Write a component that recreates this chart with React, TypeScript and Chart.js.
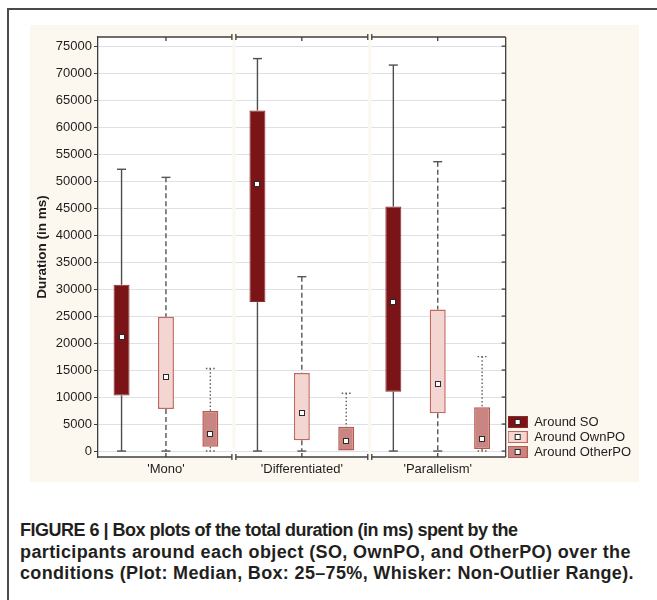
import React, { useEffect, useRef } from "react";
import { Chart, registerables } from "chart.js";

Chart.register(...registerables);

// ---------- data ----------
const categories = ["'Mono'", "'Differentiated'", "'Parallelism'"];
const seriesNames = ["Around SO", "Around OwnPO", "Around OtherPO"];

const soMin = [0, 0, 0];
const soQ1 = [10300, 27600, 11000];
const soMedian = [21100, 49500, 27600];
const soQ3 = [30800, 63100, 45300];
const soMax = [52200, 72700, 71500];

const ownMin = [0, 0, 0];
const ownQ1 = [7800, 2000, 7000];
const ownMedian = [13700, 7100, 12400];
const ownQ3 = [24900, 14450, 26200];
const ownMax = [50700, 32300, 53600];

const otherMin = [0, 0, 0];
const otherQ1 = [800, 0, 400];
const otherMedian = [3100, 1850, 2200];
const otherQ3 = [7400, 4500, 8100];
const otherMax = [15300, 10700, 17500];

const yTickValues = [0, 5000, 10000, 15000, 20000, 25000, 30000, 35000, 40000, 45000, 50000, 55000, 60000, 65000, 70000, 75000];
const yAxisTitle = "Duration (in ms)";

const captionLines = [
  "FIGURE 6 | Box plots of the total duration (in ms) spent by the",
  "participants around each object (SO, OwnPO, and OtherPO) over the",
  "conditions (Plot: Median, Box: 25\u201375%, Whisker: Non-Outlier Range).",
];

// ---------- styles ----------
const FONT = "'Liberation Sans', Arial, Helvetica, sans-serif";
const CREAM = "#fdf8ef";
const captionSpacing = [-0.5, 0.38, 0.34];
const seriesStyles = [
  { fill: "#7b1416", stroke: "#8e2a27", border: 1, dash: [] as number[], capDash: [] as number[], whisker: "#4e4e4e" },
  { fill: "#f3d5d1", stroke: "#c4685e", border: 1.5, dash: [5, 3], capDash: [] as number[], whisker: "#555555" },
  { fill: "#c98581", stroke: "#b65a50", border: 1.5, dash: [1.5, 2.2], capDash: [1.5, 2.2], whisker: "#5e5e5e" },
];

const stats = [
  { min: soMin, q1: soQ1, med: soMedian, q3: soQ3, max: soMax },
  { min: ownMin, q1: ownQ1, med: ownMedian, q3: ownQ3, max: ownMax },
  { min: otherMin, q1: otherQ1, med: otherMedian, q3: otherQ3, max: otherMax },
];

function makeIcon(fill: string, stroke: string) {
  const c = document.createElement("canvas");
  c.width = 20;
  c.height = 12;
  const g = c.getContext("2d")!;
  g.fillStyle = fill;
  g.fillRect(0, 0, 20, 12);
  g.strokeStyle = stroke;
  g.lineWidth = 1;
  g.strokeRect(0.5, 0.5, 19, 11);
  g.fillStyle = "#ffffff";
  g.fillRect(7.5, 3.5, 5, 5);
  g.strokeStyle = "#2a2a2a";
  g.strokeRect(7.5, 3.5, 5, 5);
  return c;
}

function line(ctx: CanvasRenderingContext2D, x1: number, y1: number, x2: number, y2: number) {
  ctx.beginPath();
  ctx.moveTo(x1, y1);
  ctx.lineTo(x2, y2);
  ctx.stroke();
}

const boxPlugin = {
  id: "boxExtras",
  beforeDraw(chart: any) {
    const { ctx, chartArea: a } = chart;
    ctx.save();
    ctx.fillStyle = "#ffffff";
    ctx.fillRect(a.left, a.top, a.right - a.left, a.bottom - a.top);
    ctx.restore();
  },
  afterLayout(chart: any) {
    const lg = chart.legend;
    if (lg && chart.chartArea) {
      const h = lg.bottom - lg.top;
      lg.bottom = chart.chartArea.bottom + 3.5;
      lg.top = lg.bottom - h;
    }
  },
  beforeDatasetsDraw(chart: any) {
    const { ctx, chartArea: a, scales } = chart;
    const xs = scales.x;
    const ys = scales.y;
    ctx.save();
    // group separators
    ctx.fillStyle = CREAM;
    for (let i = 0; i < categories.length - 1; i++) {
      const xb = (xs.getPixelForValue(i) + xs.getPixelForValue(i + 1)) / 2;
      ctx.fillRect(xb - 1.5, a.top, 3, a.bottom - a.top);
    }
    // whiskers
    stats.forEach((s, k) => {
      const meta = chart.getDatasetMeta(k);
      const st = seriesStyles[k];
      meta.data.forEach((bar: any, j: number) => {
        const x = bar.x;
        ctx.strokeStyle = st.whisker;
        ctx.lineWidth = 1.4;
        ctx.setLineDash(st.dash);
        line(ctx, x, ys.getPixelForValue(s.max[j]), x, ys.getPixelForValue(s.q3[j]));
        if (s.min[j] < s.q1[j]) line(ctx, x, ys.getPixelForValue(s.q1[j]), x, ys.getPixelForValue(s.min[j]));
        ctx.setLineDash(st.capDash);
        const yMaxP = ys.getPixelForValue(s.max[j]);
        line(ctx, x - 4.5, yMaxP, x + 4.5, yMaxP);
        if (s.min[j] < s.q1[j]) {
          const yMinP = ys.getPixelForValue(s.min[j]);
          line(ctx, x - 4.5, yMinP, x + 4.5, yMinP);
        }
      });
    });
    ctx.restore();
  },
  afterDatasetsDraw(chart: any) {
    const { ctx, chartArea: a, scales } = chart;
    const xs = scales.x;
    const ys = scales.y;
    ctx.save();
    // medians
    stats.forEach((s, k) => {
      const meta = chart.getDatasetMeta(k);
      meta.data.forEach((bar: any, j: number) => {
        const x = Math.round(bar.x);
        const y = Math.round(ys.getPixelForValue(s.med[j]));
        ctx.fillStyle = "#ffffff";
        ctx.fillRect(x - 2.5, y - 2.5, 5, 5);
        ctx.strokeStyle = "#2a2a2a";
        ctx.lineWidth = 1;
        ctx.setLineDash([]);
        ctx.strokeRect(x - 2.5, y - 2.5, 5, 5);
      });
    });
    // frame with break marks
    ctx.strokeStyle = "#3f3f3f";
    ctx.lineWidth = 1.3;
    ctx.setLineDash([]);
    const bounds: number[] = [a.left];
    for (let i = 0; i < categories.length - 1; i++) {
      bounds.push((xs.getPixelForValue(i) + xs.getPixelForValue(i + 1)) / 2);
    }
    bounds.push(a.right);
    const gap = 2;
    [a.top, a.bottom].forEach((yy, side) => {
      for (let s = 0; s < bounds.length - 1; s++) {
        const x1 = s === 0 ? bounds[s] : bounds[s] + gap;
        const x2 = s === bounds.length - 2 ? bounds[s + 1] : bounds[s + 1] - gap;
        line(ctx, x1, yy, x2, yy);
        if (s > 0) line(ctx, x1, yy - 3, x1, yy + 3);
        if (s < bounds.length - 2) line(ctx, x2, yy - 3, x2, yy + 3);
      }
      for (let i = 0; i < categories.length; i++) {
        const cx = xs.getPixelForValue(i);
        line(ctx, cx, yy, cx, side === 0 ? yy + 4 : yy - 4);
      }
    });
    // right axis with inward ticks
    line(ctx, a.right, a.top, a.right, a.bottom);
    yTickValues.forEach((v) => {
      const yy = ys.getPixelForValue(v);
      line(ctx, a.right - 4, yy, a.right, yy);
    });
    ctx.restore();
  },
};

function BoxChart() {
  const ref = useRef<HTMLCanvasElement | null>(null);
  useEffect(() => {
    if (!ref.current) return;
    Chart.defaults.font.family = FONT;
    const icons = seriesStyles.map((s) => makeIcon(s.fill, s.stroke));
    const chart = new Chart(ref.current, {
      type: "bar",
      data: {
        labels: categories,
        datasets: stats.map((s, k) => ({
          label: seriesNames[k],
          data: s.q1.map((q, i) => [q, s.q3[i]]),
          backgroundColor: seriesStyles[k].fill,
          borderColor: seriesStyles[k].stroke,
          borderWidth: seriesStyles[k].border,
          borderSkipped: false,
          categoryPercentage: 0.98,
          barPercentage: 0.36,
        })),
      } as any,
      options: {
        responsive: false,
        animation: false,
        devicePixelRatio: 1,
        layout: { padding: { top: 12, left: 0, right: 0, bottom: 0 } },
        plugins: {
          tooltip: { enabled: false },
          legend: {
            position: "right",
            align: "end",
            labels: {
              usePointStyle: true,
              pointStyleWidth: 20,
              boxHeight: 12,
              padding: 2,
              color: "#1e1e1e",
              font: { size: 13, family: FONT },
              generateLabels: () =>
                seriesNames.map((name, k) => ({
                  text: name,
                  pointStyle: icons[k],
                  fillStyle: seriesStyles[k].fill,
                  strokeStyle: seriesStyles[k].stroke,
                  lineWidth: 0,
                  hidden: false,
                  datasetIndex: k,
                  fontColor: "#1e1e1e",
                })),
            },
          },
        },
        scales: {
          x: {
            type: "category",
            grid: { display: false, drawTicks: false },
            border: { display: false },
            ticks: { color: "#1e1e1e", font: { size: 13, family: FONT }, padding: 5, maxRotation: 0 },
            afterFit: (s: any) => {
              s.height = 26;
            },
          },
          y: {
            type: "linear",
            min: -1100,
            max: 76700,
            afterBuildTicks: (s: any) => {
              s.ticks = yTickValues.map((v) => ({ value: v }));
            },
            ticks: {
              color: "#1e1e1e",
              font: { size: 13, family: FONT },
              padding: 2,
              callback: (v: any) => String(v),
            },
            grid: { color: "#dde2ea", lineWidth: 1, tickColor: "#3f3f3f", tickLength: 4, drawTicks: true },
            border: { display: true, color: "#3f3f3f", width: 1.3 },
            title: {
              display: true,
              text: yAxisTitle,
              color: "#1e1e1e",
              font: { size: 13.5, weight: "bold", family: FONT },
              padding: { top: 4, bottom: 0 },
            },
            afterFit: (s: any) => {
              s.width = 68;
            },
          },
        },
      } as any,
      plugins: [boxPlugin],
    });
    return () => chart.destroy();
  }, []);
  return <canvas ref={ref} width={611} height={458} style={{ position: "absolute", left: 30, top: 25 }} />;
}

export default function App() {
  return (
    <div style={{ position: "absolute", left: 0, top: 0, width: 657, height: 600, background: "#ffffff", overflow: "hidden" }}>
      <div style={{ position: "absolute", left: 7, top: 8, width: 650, height: 1.5, background: "#4a4a4a" }} />
      <div style={{ position: "absolute", left: 7, top: 8, width: 1.5, height: 592, background: "#4a4a4a" }} />
      <div style={{ position: "absolute", left: 30, top: 25, width: 609, height: 457, background: CREAM }} />
      <BoxChart />
      <div style={{ position: "absolute", left: 20, top: 520, fontFamily: FONT, fontWeight: "bold", fontSize: 18, lineHeight: "21.5px", color: "#231f20" }}>
        {captionLines.map((t, i) => (
          <div key={i} style={{ whiteSpace: "nowrap", letterSpacing: captionSpacing[i] + "px" }}>{t}</div>
        ))}
      </div>
    </div>
  );
}
